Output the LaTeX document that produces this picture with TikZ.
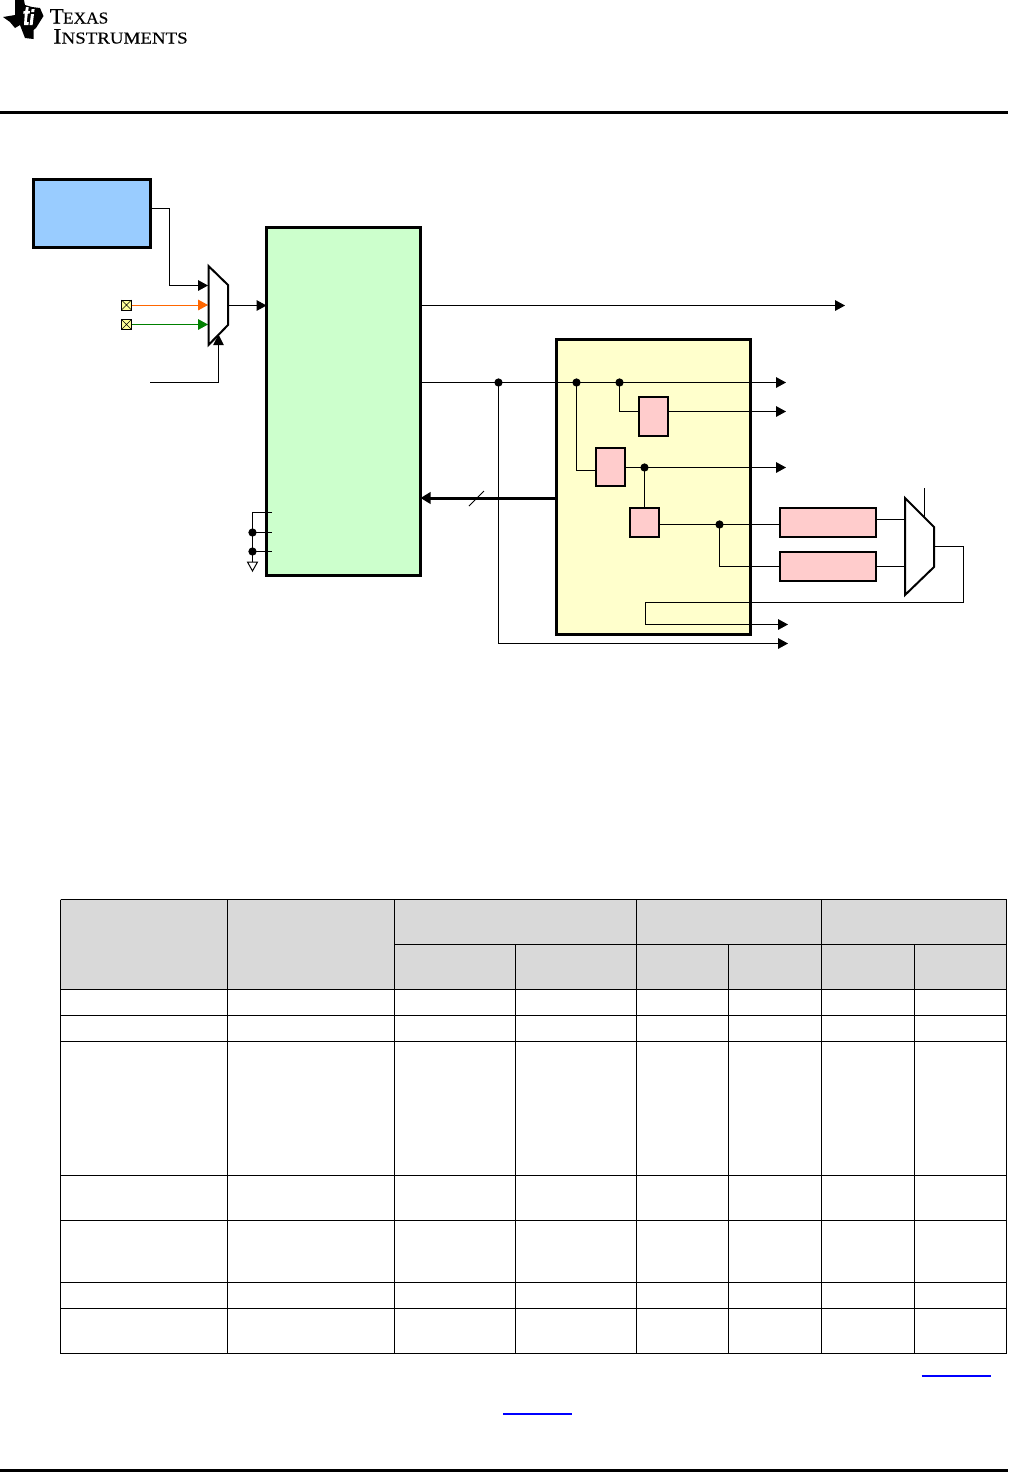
\documentclass[tikz,border=0pt]{standalone}
\usepackage{fontspec}
\setmainfont{Liberation Serif}
\newfontfamily\logofont[FakeBold=0.25]{Liberation Serif}
\usetikzlibrary{arrows.meta,positioning}
\definecolor{blk}{HTML}{99CCFF}
\definecolor{grn}{HTML}{CCFFCC}
\definecolor{ylw}{HTML}{FFFFCC}
\definecolor{pnk}{HTML}{FFCCCC}
\definecolor{pinfill}{HTML}{FFFF99}
\definecolor{orng}{HTML}{FF6600}
\definecolor{dgrn}{HTML}{008000}
\definecolor{hdr}{HTML}{D9D9D9}
\tikzset{
  block/.style={draw=black,line width=2.25pt,inner sep=0pt,outer sep=0pt},
  smallblock/.style={draw=black,line width=1.5pt,fill=pnk,inner sep=0pt,outer sep=0pt},
  wire/.style={draw=black,line width=0.75pt},
  arr/.style={wire,-{Triangle[length=7.5pt,width=8pt]}},
  thickarr/.style={draw=black,line width=2.25pt,-{Triangle[length=7.5pt,width=8.5pt]}},
  muxshape/.style={draw=black,fill=white,line width=1.5pt,line join=miter},
  dotj/.style={circle,fill=black,inner sep=0pt,minimum size=6.2pt,outer sep=0pt},
  pinbox/.style={draw=black,fill=pinfill,line width=0.75pt,minimum size=7.5pt,inner sep=0pt,outer sep=0pt},
  rule/.style={line width=2.25pt,draw=black},
  grid/.style={draw=black,line width=0.85pt},
  linkline/.style={draw={rgb,255:red,0;green,0;blue,255},line width=1pt},
}
\newcommand{\boxat}[7][]{% style, name, x0,y0,x1,y1
  \node[#2,#1,minimum width={(#5-#3)*0.75pt},minimum height={(#6-#4)*0.75pt},anchor=north west] (#7) at (#3,#4) {};}
\begin{document}
\begin{tikzpicture}[x=0.75pt,y=-0.75pt]
\useasboundingbox (0,0) rectangle (1008,1472);
\fill[white] (0,0) rectangle (1008,1472);

% logo
\fill[black] (15,0) -- (24,0) -- (25,5) -- (32,7) -- (40,8) -- (43.5,16) -- (36,28) -- (33.5,30) -- (33.5,39) -- (25,38) -- (20,25) -- (15,28) -- (10,22) -- (3,17) -- (15,15) -- cycle;
\fill[white] (26,7) -- (28.7,7) -- (28.2,11) -- (30,11) -- (29.6,13.5) -- (27.8,13.5) -- (26.8,22) -- (28.8,22) -- (28.4,25) -- (24,25) -- (24.8,13.5) -- (23.2,13.5) -- (23.6,11) -- (25.2,11) -- cycle;
\fill[white] (31,14) -- (34,14) -- (32.6,25) -- (29.6,25) -- cycle;
\fill[white] (31.6,9) -- (34.6,9) -- (34.2,12) -- (31.2,12) -- cycle;
\node[anchor=base west,inner sep=0pt] (logoa) at (49.5,23.5) {\scalebox{1.04}[1]{\logofont\fontsize{16.5pt}{16.5pt}\selectfont T\kern-0.5pt{\fontsize{12.5pt}{12.5pt}\selectfont EXAS}}};
\node[anchor=base west,inner sep=0pt] (logob) at (53,43.5) {\scalebox{1.135}[1]{\logofont\fontsize{16.5pt}{16.5pt}\selectfont I{\fontsize{12.5pt}{12.5pt}\selectfont NSTRUMENTS}}};

% rules
\coordinate (ruletopl) at (0,112.5); \coordinate (ruletopr) at (1008,112.5);
\draw[rule] (ruletopl) -- (ruletopr);
\coordinate (rulebotl) at (0,1470.5); \coordinate (rulebotr) at (1008,1470.5);
\draw[rule] (rulebotl) -- (rulebotr);

% large blocks
\boxat[fill=blk]{block}{33.5}{179.5}{150.5}{247}{blue}
\boxat[fill=grn]{block}{266.5}{227.5}{420.5}{575.5}{green}
\boxat[fill=ylw]{block}{556.5}{339.5}{750.5}{634.5}{yellow}

% junction coordinates
\coordinate (jA) at (498.5,382.5);
\coordinate (jB) at (576.5,382.5);
\coordinate (jC) at (619.5,382.5);
\coordinate (jD) at (644.5,467.5);
\coordinate (jE) at (719.5,524.5);
\coordinate (jF) at (252.5,532.5);
\coordinate (jG) at (252.5,551.5);

% pink blocks
\boxat{smallblock}{639}{397}{668}{436}{ra}
\boxat{smallblock}{596}{448}{625}{486}{rb}
\boxat{smallblock}{630}{508}{659}{537}{rc}
\boxat{smallblock}{780}{508}{876}{537}{rd}
\boxat{smallblock}{780}{552}{876}{581}{re}

% ports
\coordinate (muxaout) at (228,305.5);
\coordinate (muxain1) at (208,285.5);
\coordinate (muxain2) at (208,305);
\coordinate (muxain3) at (208,324.5);
\coordinate (muxasel) at (218.5,334.5);
\coordinate (muxbin1) at (905,519.5);
\coordinate (muxbin2) at (905,566.5);
\coordinate (muxbout) at (934,546.5);
\coordinate (muxbsel) at (924.5,518);
\coordinate (raw) at (639,411.5);
\coordinate (rae) at (668,411.5);
\coordinate (rbw) at (596,470.5);

% wires
\coordinate (c1) at (169.5,208.5);
\coordinate (c2) at (169.5,285.5);
\draw[wire] (blue.east |- c1) -- (c1) -- (c2);
\draw[arr] (c2) -- (muxain1);
\node[pinbox] (pina) at (126.5,305) {};
\node[pinbox] (pinb) at (126.5,324.5) {};
\draw[line width=0.5pt] (pina.north west) -- (pina.south east) (pina.north east) -- (pina.south west);
\draw[line width=0.5pt] (pinb.north west) -- (pinb.south east) (pinb.north east) -- (pinb.south west);
\draw[arr,draw=orng,color=orng] (pina) -- (muxain2);
\draw[arr,draw=dgrn,color=dgrn] (pinb) -- (muxain3);
\coordinate (selfree) at (150,382.5);
\draw[arr] (muxaout) -- (green.west |- muxaout);
\draw[arr] (green.east |- muxaout) -- (845,305.5);
\draw[wire] (green.east |- jA) -- (jA);
\draw[arr] (jA) -- (786,382.5);
\coordinate (b1) at (498.5,643.5);
\draw[wire] (jA) -- (b1);
\draw[arr] (b1) -- (788,643.5);
\draw[wire] (jC) |- (raw);
\draw[arr] (rae) -- (786,411.5);
\draw[wire] (jB) |- (rbw);
\draw[wire] (rb.east |- jD) -- (jD);
\draw[arr] (jD) -- (786,467.5);
\draw[wire] (jD) -- (rc.north -| jD);
\draw[wire] (rc.east |- jE) -- (rd.west |- jE);
\coordinate (rew) at (780,566.5);
\draw[wire] (jE) |- (rew);
\draw[wire] (rd.east |- muxbin1) -- (muxbin1);
\draw[wire] (re.east |- muxbin2) -- (muxbin2);
\coordinate (fb1) at (963.5,546.5);
\coordinate (fb2) at (963.5,602.5);
\coordinate (fb3) at (645.5,602.5);
\coordinate (fb4) at (645.5,624.5);
\draw[wire] (muxbout) -- (fb1) -- (fb2) -- (fb3) -- (fb4);
\draw[arr] (fb4) -- (788,624.5);
\coordinate (selb) at (924.5,488);
\draw[wire] (selb) -- (muxbsel);

% thick bus
\draw[thickarr] (yellow.west |- 0,498) -- (green.east |- 0,498);
\coordinate (sl1) at (469,506); \coordinate (sl2) at (484,491);
\draw[wire] (sl1) -- (sl2);

% left-side tie-offs
\coordinate (ta) at (272,512.5);
\coordinate (tb) at (272,532.5);
\coordinate (tc) at (272,551.5);
\coordinate (gnd) at (252.5,562);
\draw[wire] (ta) -| (gnd);
\draw[wire] (jF) -- (tb);
\draw[wire] (jG) -- (tc);
\draw[wire,fill=white] (247.5,562) -- (257.5,562) -- (252.5,571) -- cycle;

% muxes over wires
\draw[muxshape] (208.5,266) -- (228,285) -- (228,325) -- (208.5,345) -- cycle;
\draw[muxshape] (905,498) -- (934,527) -- (934,567) -- (905,595) -- cycle;
\coordinate (selb2) at (218.5,382.5);
\draw[wire] (selfree) -- (selb2);
\draw[arr,-{Triangle[length=8pt,width=8pt]}] (selb2) -- (muxasel);

% dots
\foreach \j in {jA,jB,jC,jD,jE,jF,jG} \node[dotj] at (\j) {};

% table
\fill[hdr] (60,899) rectangle (1006,989);
\begin{scope}[shift={(0.5,0.5)}]
\foreach \yy/\a in {899/60,944/394,989/60,1015/60,1041/60,1175/60,1220/60,1282/60,1308/60,1353/60}
  \draw[grid] (\a,\yy) -- (1006,\yy);
\foreach \xx in {60,227,394,636,821,1006}
  \draw[grid] (\xx,899) -- (\xx,1353);
\foreach \xx in {515,728,914}
  \draw[grid] (\xx,944) -- (\xx,1353);
\end{scope}

% link underlines
\draw[linkline] (921.5,1376) -- (991,1376);
\draw[linkline] (503,1414) -- (572,1414);
\end{tikzpicture}
\end{document}
